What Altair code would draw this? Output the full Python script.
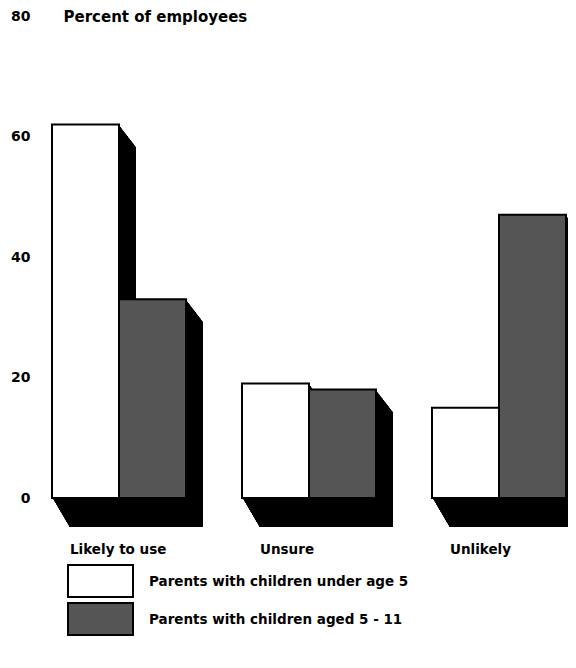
import altair as alt
import pandas as pd

# ---- data ----
CATEGORIES = ["Likely to use", "Unsure", "Unlikely"]
SERIES = ["Parents with children under age 5", "Parents with children aged 5 - 11"]
UNDER5 = [62, 19, 15]
AGED5_11 = [33, 18, 47]
Y_TICKS = [0, 20, 40, 60, 80]
Y_TITLE = "Percent of employees"

# ---- style / layout ----
FONT = "DejaVu Sans"
FS = 13.5
FILLS = ["#ffffff", "#555555"]
BAR_PX = 67
GROUP_STEP = 190 / BAR_PX
W, H = 531, 482
X_MIN = -15 / BAR_PX
X_MAX = X_MIN + W / BAR_PX
DEPTH_X = 17
DEPTH_TOP = 22
DEPTH_BOTTOM = 29

rows = []
for gi, cat in enumerate(CATEGORIES):
    for si, (name, vals) in enumerate(zip(SERIES, [UNDER5, AGED5_11])):
        start = gi * GROUP_STEP + si
        rows.append({"category": cat, "series": name, "value": vals[gi],
                     "base": 0, "x0": start, "x1": start + 1})
df = pd.DataFrame(rows)
cat_df = pd.DataFrame({"category": CATEGORIES,
                       "x0": [gi * GROUP_STEP for gi in range(len(CATEGORIES))]})

xs = alt.Scale(domain=[X_MIN, X_MAX], nice=False, zero=False)
ys = alt.Scale(domain=[0, 80], nice=False)

Y_AXIS = alt.Axis(
    values=Y_TICKS, domain=False, ticks=False, grid=False,
    labelFont=FONT, labelFontWeight="bold", labelFontSize=14,
    labelColor="black", labelPadding=7,
    title=Y_TITLE, titleAngle=0, titleAlign="left",
    titleBaseline="middle", titleX=26, titleY=0,
    titleFont=FONT, titleFontSize=15, titleFontWeight="bold",
    titleColor="black",
)


def y_enc():
    return alt.Y("value:Q", scale=ys, axis=Y_AXIS)


layers = []
# extruded black "3D" depth, drawn as swept copies of the bars
for k in range(1, DEPTH_X + 1):
    layers.append(
        alt.Chart(df).mark_bar(
            color="black",
            xOffset=k, x2Offset=k,
            yOffset=k * DEPTH_TOP / DEPTH_X,
            y2Offset=k * DEPTH_BOTTOM / DEPTH_X,
        ).encode(
            x=alt.X("x0:Q", scale=xs, axis=None),
            x2="x1:Q",
            y=y_enc(),
            y2="base:Q",
        )
    )

# front faces
front = alt.Chart(df).mark_bar(stroke="black", strokeWidth=2).encode(
    x=alt.X("x0:Q", scale=xs, axis=None),
    x2="x1:Q",
    y=y_enc(),
    y2="base:Q",
    color=alt.Color("series:N", scale=alt.Scale(domain=SERIES, range=FILLS), legend=None),
)
layers.append(front)

# category labels
layers.append(
    alt.Chart(cat_df).mark_text(
        align="left", baseline="middle", dx=18, font=FONT,
        fontSize=FS, fontWeight="bold", color="black",
    ).encode(
        x=alt.X("x0:Q", scale=xs, axis=None),
        y=alt.value(534),
        text="category:N",
    )
)

# hand-drawn legend (wide rectangular swatches)
LEG_TOP = [549, 587]
for name, fill, top in zip(SERIES, FILLS, LEG_TOP):
    ldf = pd.DataFrame({"series": [name]})
    layers.append(
        alt.Chart(ldf).mark_rect(fill=fill, stroke="black", strokeWidth=2).encode(
            x=alt.value(31), x2=alt.value(96),
            y=alt.value(top), y2=alt.value(top + 32),
        )
    )
    layers.append(
        alt.Chart(ldf).mark_text(
            align="left", baseline="middle", font=FONT, fontSize=FS,
            fontWeight="bold", color="black",
        ).encode(
            x=alt.value(112), y=alt.value(top + 17), text="series:N",
        )
    )

chart = alt.layer(*layers).properties(
    width=W, height=H,
    autosize=alt.AutoSizeParams(type="none"),
    padding={"left": 29, "top": 8, "right": 0, "bottom": 162},
).configure_view(stroke=None)

chart.save("out.html", embed_options={"renderer": "svg", "actions": False})
